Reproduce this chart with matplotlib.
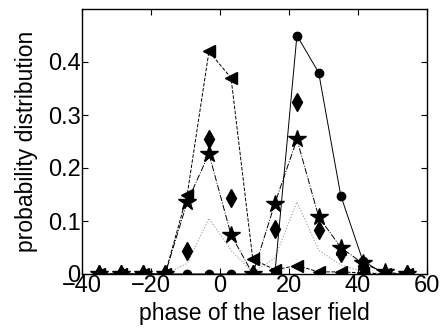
import numpy as np
from matplotlib import pyplot as plt

plt.rcParams['font.family'] = ['Liberation Sans', 'DejaVu Sans']

phase = [-35.0, -28.6, -22.3, -15.9, -9.5, -3.2, 3.2, 9.5, 15.9, 22.3, 28.6, 35.0, 41.4, 47.7, 54.1]

circles = [0, 0, 0, 0, 0, 0, 0, 0, 0, 0.45, 0.38, 0.148, 0.025, 0, 0]
triangles = [0, 0, 0, 0, 0.15, 0.42, 0.37, 0.028, 0.008, 0.016, 0.004, 0.004, 0.002, 0, 0]
stars = [0, 0, 0, 0, 0.136, 0.227, 0.074, 0, 0.133, 0.254, 0.108, 0.05, 0.02, 0.003, 0]
diamonds = [0, 0, 0, 0, 0.044, 0.255, 0.144, 0, 0.084, 0.325, 0.083, 0.04, 0.015, 0, 0]
dotted = [0, 0, 0, 0, 0.02, 0.105, 0.045, 0.003, 0.03, 0.136, 0.045, 0.017, 0.005, 0, 0]

fig = plt.figure(figsize=(4.45, 3.28), dpi=100)
ax = fig.add_axes([82/445, 1-274/328, 345/445, 265/328])

ax.plot(phase, dotted, linestyle=':', color='0.6', lw=0.8)
ax.plot(phase, circles, linestyle='-', color='k', lw=0.7, marker='o', ms=6)
ax.plot(phase, triangles, linestyle='--', color='k', lw=0.7, marker='<', ms=9)
ax.plot(phase, stars, linestyle='-.', color='k', lw=0.7, marker='*', ms=13)
ax.plot(phase, diamonds, linestyle='none', color='k', marker='d', ms=9)

ax.set_xlim(-40, 60)
ax.set_ylim(0, 0.5)
ax.set_xticks([-40, -20, 0, 20, 40, 60])
ax.set_yticks([0, 0.1, 0.2, 0.3, 0.4])
ax.set_yticklabels(['0', '0.1', '0.2', '0.3', '0.4'])
ax.tick_params(direction='in', top=True, right=True, labelsize=17, length=4, pad=1)
for s in ax.spines.values():
    s.set_linewidth(1.0)
ax.set_xlabel('phase of the laser field', fontsize=16.5, labelpad=3)
ax.set_ylabel('probability distribution', fontsize=16.5, labelpad=7)

fig.savefig('out.png', dpi=100)
